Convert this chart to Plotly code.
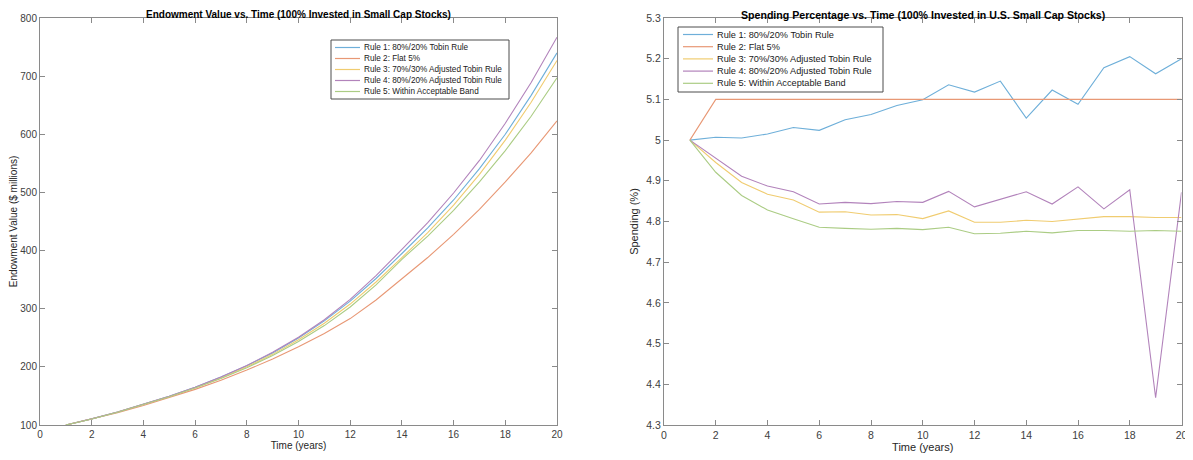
import plotly.graph_objects as go

years = list(range(1, 21))

rule_names = [
    "Rule 1: 80%/20% Tobin Rule",
    "Rule 2: Flat 5%",
    "Rule 3: 70%/30% Adjusted Tobin Rule",
    "Rule 4: 80%/20% Adjusted Tobin Rule",
    "Rule 5: Within Acceptable Band",
]

# Endowment value ($ millions)
endow_r1 = [100, 110.5, 122.5, 135.5, 149.5, 165, 182.5, 202, 224, 249.5,
            279, 313, 352, 395, 439, 487, 541, 600, 667, 740]
endow_r2 = [100, 110, 121.3, 133.5, 146.8, 161.3, 177, 194.5, 213.5, 234.5,
            257.5, 283, 315, 352, 388, 428, 471, 518, 568, 623]
endow_r3 = [100, 110.4, 122.3, 135.2, 149, 164, 181, 200, 221.5, 246.5,
            275, 308, 346, 388, 431, 478, 531, 590, 655, 727]
endow_r4 = [100, 110.5, 122.5, 135.5, 149.5, 165, 182.5, 202.5, 225, 251,
            281, 316, 357, 402, 448, 499, 555, 619, 689, 767]
endow_r5 = [100, 110.3, 122, 134.8, 148.5, 163.5, 180, 198.5, 219.5, 243.5,
            271, 303, 341, 385, 425, 469, 518, 572, 631, 697]

# Spending percentage (%)
spend_r1 = [5.0, 5.007, 5.005, 5.015, 5.031, 5.024, 5.05, 5.063, 5.085, 5.099,
            5.136, 5.118, 5.145, 5.054, 5.123, 5.088, 5.178, 5.205, 5.163, 5.2]
spend_r2 = [5.0, 5.1, 5.1, 5.1, 5.1, 5.1, 5.1, 5.1, 5.1, 5.1,
            5.1, 5.1, 5.1, 5.1, 5.1, 5.1, 5.1, 5.1, 5.1, 5.1]
spend_r3 = [5.0, 4.945, 4.896, 4.867, 4.853, 4.823, 4.824, 4.816, 4.817, 4.807,
            4.826, 4.798, 4.798, 4.803, 4.80, 4.806, 4.812, 4.812, 4.81, 4.81]
spend_r4 = [5.0, 4.955, 4.911, 4.887, 4.873, 4.843, 4.847, 4.844, 4.849, 4.847,
            4.874, 4.836, 4.855, 4.873, 4.843, 4.885, 4.831, 4.878, 4.367, 4.872]
spend_r5 = [5.0, 4.921, 4.864, 4.828, 4.807, 4.786, 4.783, 4.781, 4.783, 4.78,
            4.786, 4.77, 4.771, 4.776, 4.772, 4.778, 4.778, 4.776, 4.778, 4.776]

x_ticks = [0, 2, 4, 6, 8, 10, 12, 14, 16, 18, 20]
endow_ticks = [100, 200, 300, 400, 500, 600, 700, 800]
spend_ticks = [4.3, 4.4, 4.5, 4.6, 4.7, 4.8, 4.9, 5.0, 5.1, 5.2, 5.3]
spend_tick_labels = ["4.3", "4.4", "4.5", "4.6", "4.7", "4.8", "4.9", "5", "5.1", "5.2", "5.3"]

colors = ["#6EAFD9", "#E89875", "#F0CC70", "#B283BB", "#ABCC84"]

endow_series = [endow_r1, endow_r2, endow_r3, endow_r4, endow_r5]
spend_series = [spend_r1, spend_r2, spend_r3, spend_r4, spend_r5]

FONT = "Liberation Sans, Arial, Helvetica, sans-serif"
OFF = 8  # page body margin of the browser
W, H = 1193 - OFF, 460 - OFF


def px_x(p):
    return (p - OFF) / W


def px_y(p):
    return (H - (p - OFF)) / H


fig = go.Figure()
for name, vals, c in zip(rule_names, endow_series, colors):
    fig.add_trace(go.Scatter(x=years, y=vals, mode="lines", name=name,
                             line=dict(color=c, width=1.1),
                             xaxis="x", yaxis="y", showlegend=False))
for name, vals, c in zip(rule_names, spend_series, colors):
    fig.add_trace(go.Scatter(x=years, y=vals, mode="lines", name=name,
                             line=dict(color=c, width=1.1),
                             xaxis="x2", yaxis="y2", showlegend=False))

# Compact MATLAB-style legend boxes (layout decoration in paper space)
shapes = []
annotations = []


def add_legend(box, first_y, step, sample, text_x, fsize):
    x0, y0, x1, y1 = box
    shapes.append(dict(type="rect", xref="paper", yref="paper",
                       x0=px_x(x0), x1=px_x(x1), y0=px_y(y1), y1=px_y(y0),
                       fillcolor="white", line=dict(color="#4d4d4d", width=1), layer="above"))
    for i, (name, c) in enumerate(zip(rule_names, colors)):
        yy = first_y + i * step
        shapes.append(dict(type="line", xref="paper", yref="paper",
                           x0=px_x(sample[0]), x1=px_x(sample[1]), y0=px_y(yy), y1=px_y(yy),
                           line=dict(color=c, width=1.2), layer="above"))
        annotations.append(dict(text=name, x=px_x(text_x), y=px_y(yy), xref="paper", yref="paper",
                                xanchor="left", yanchor="middle", showarrow=False,
                                font=dict(family=FONT, size=fsize, color="#1a1a1a")))


add_legend((331, 40, 509, 99), 47.5, 11.0, (335, 360), 362, 8.2)
add_legend((678, 27, 883, 92), 34.5, 12.2, (683, 713), 715, 9.2)

annotations += [
    dict(text="<b>Endowment Value vs. Time (100% Invested in Small Cap Stocks)</b>",
         x=(px_x(40) + px_x(557)) / 2, y=1.0, xref="paper", yref="paper",
         xanchor="center", yanchor="top", showarrow=False, borderpad=0,
         font=dict(family=FONT, size=10, color="#000000")),
    dict(text="<b>Spending Percentage vs. Time (100% Invested in U.S. Small Cap Stocks)</b>",
         x=(px_x(664) + px_x(1181.5)) / 2, y=1.0, xref="paper", yref="paper",
         xanchor="center", yanchor="top", showarrow=False, borderpad=0,
         font=dict(family=FONT, size=10.6, color="#000000")),
]

axis_common = dict(
    showgrid=False, zeroline=False, showline=True, linecolor="#8a8a8a", linewidth=1,
    mirror="ticks", ticks="inside", ticklen=5, tickcolor="#8a8a8a", tickwidth=1,
    automargin=False,
)

fig.update_layout(
    width=W, height=H,
    paper_bgcolor="white", plot_bgcolor="white",
    margin=dict(l=0, r=0, t=0, b=0, autoexpand=False),
    font=dict(family=FONT, color="#262626"),
    showlegend=False,
    xaxis=dict(domain=[px_x(40), px_x(557)], range=[0, 20], tickvals=x_ticks, anchor="y",
               tickfont=dict(family=FONT, size=10, color="#404040"),
               title=dict(text="Time (years)", font=dict(family=FONT, size=10, color="#262626"), standoff=2),
               **axis_common),
    yaxis=dict(domain=[px_y(425), px_y(18)], range=[100, 800], tickvals=endow_ticks, anchor="x",
               tickfont=dict(family=FONT, size=10, color="#404040"),
               title=dict(text="Endowment Value ($ millions)", font=dict(family=FONT, size=10, color="#262626"), standoff=4),
               **axis_common),
    xaxis2=dict(domain=[px_x(664), px_x(1181.5)], range=[0, 20], tickvals=x_ticks, anchor="y2",
                tickfont=dict(family=FONT, size=10.5, color="#404040"),
                title=dict(text="Time (years)", font=dict(family=FONT, size=11, color="#262626"), standoff=3),
                **axis_common),
    yaxis2=dict(domain=[px_y(425), px_y(18)], range=[4.3, 5.3], tickvals=spend_ticks,
                ticktext=spend_tick_labels, anchor="x2",
                tickfont=dict(family=FONT, size=10.5, color="#404040"),
                title=dict(text="Spending (%)", font=dict(family=FONT, size=11, color="#262626"), standoff=5),
                **axis_common),
    shapes=shapes,
    annotations=annotations,
)

fig.write_html("out.html")
